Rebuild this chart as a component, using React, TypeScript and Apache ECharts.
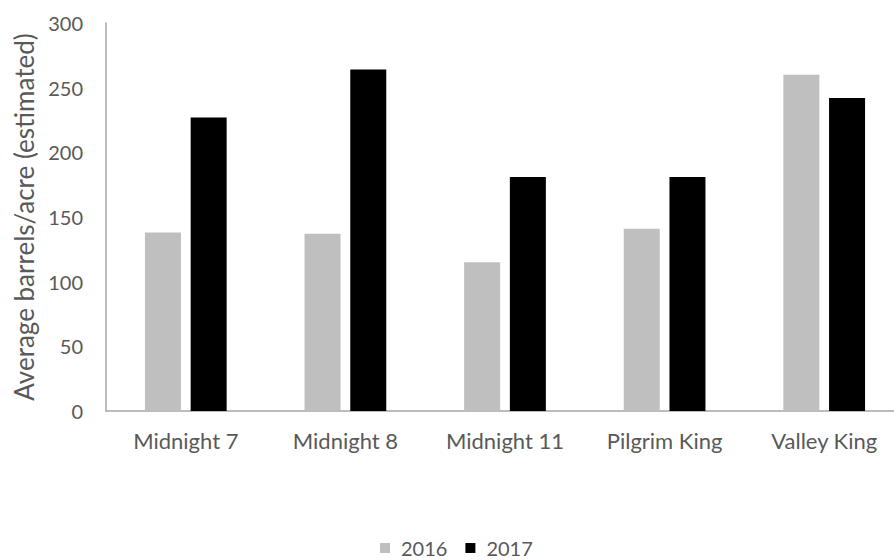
import React, { useEffect, useRef } from "react";
import * as echarts from "echarts";

// Average yield per variety, barrels/acre (estimated)
const varieties = ["Midnight 7", "Midnight 8", "Midnight 11", "Pilgrim King", "Valley King"];
const yield2016 = [138, 137, 115, 141, 260];
const yield2017 = [227, 264, 181, 181, 242];
const seasons = ["2016", "2017"];

const FONT = "Lato, 'Open Sans', 'Noto Sans', sans-serif";
const TEXT_COLOR = "#595959";
const AXIS_COLOR = "#a6a6a6";

export default function App() {
  const ref = useRef<HTMLDivElement>(null);

  useEffect(() => {
    if (!ref.current) return;
    const chart = echarts.init(ref.current, undefined, { renderer: "svg" });
    chart.setOption({
      animation: false,
      backgroundColor: "#ffffff",
      textStyle: { fontFamily: FONT },
      // the plot runs slightly past the right edge of the visible frame
      grid: { left: 106, top: 23, width: 798, height: 388, containLabel: false },
      legend: {
        data: seasons,
        left: 380,
        top: 538,
        padding: 0,
        itemWidth: 10,
        itemHeight: 10,
        itemGap: 18,
        icon: "rect",
        textStyle: {
          color: TEXT_COLOR,
          fontSize: 20,
          lineHeight: 20,
          fontFamily: FONT,
          padding: [0, 0, 0, 6],
        },
      },
      xAxis: {
        type: "category",
        data: varieties,
        axisLine: { lineStyle: { color: AXIS_COLOR, width: 1.5 } },
        axisTick: { show: false },
        axisLabel: { color: TEXT_COLOR, fontSize: 22, margin: 18, fontFamily: FONT },
      },
      yAxis: {
        type: "value",
        min: 0,
        max: 300,
        interval: 50,
        name: "Average barrels/acre (estimated)",
        nameLocation: "middle",
        nameGap: 68,
        nameTextStyle: { color: TEXT_COLOR, fontSize: 26, fontFamily: FONT },
        axisLine: { show: true, lineStyle: { color: AXIS_COLOR, width: 1.5 } },
        axisTick: { show: false },
        splitLine: { show: false },
        axisLabel: { color: TEXT_COLOR, fontSize: 20, margin: 23, fontFamily: FONT },
      },
      series: [
        {
          name: seasons[0],
          type: "bar",
          data: yield2016,
          barWidth: 36,
          barGap: "27%",
          itemStyle: { color: "#bfbfbf" },
        },
        {
          name: seasons[1],
          type: "bar",
          data: yield2017,
          barWidth: 36,
          barGap: "27%",
          itemStyle: { color: "#000000" },
        },
      ],
    });
    return () => chart.dispose();
  }, []);

  return (
    <div style={{ position: "fixed", left: 0, top: 0, width: 894, height: 560, overflow: "hidden", background: "#fff" }}>
      <div ref={ref} style={{ width: 920, height: 560 }} />
    </div>
  );
}
